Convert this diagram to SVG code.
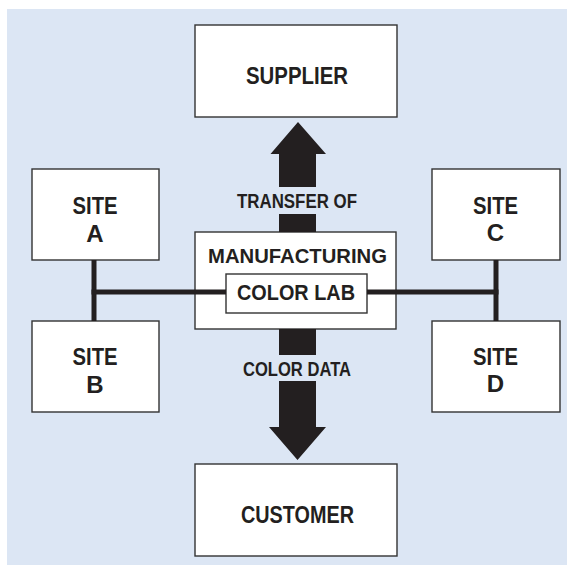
<svg xmlns="http://www.w3.org/2000/svg" width="575" height="575" viewBox="0 0 575 575">
<style>
.box{fill:#ffffff;stroke:#333333;stroke-width:1.4}
.t{font-family:"Liberation Sans Narrow","Liberation Sans",Arial,sans-serif;font-weight:bold;fill:#231f20;text-anchor:middle}
.c{fill:#231f20;stroke:none}
</style>
<rect x="0" y="0" width="575" height="575" fill="#ffffff"/>
<rect x="7" y="9" width="560" height="556" fill="#dce6f4"/>
<g id="supplier">
<rect class="box" x="195" y="25" width="202" height="92"/>
<text class="t" x="297" y="84" font-size="24" textLength="102" lengthAdjust="spacingAndGlyphs">SUPPLIER</text>
</g>
<g id="site-a">
<rect class="box" x="32" y="169" width="127" height="91"/>
<text class="t" x="95" y="214" font-size="24" textLength="45" lengthAdjust="spacingAndGlyphs">SITE</text>
<text class="t" x="95" y="241.5" font-size="24">A</text>
</g>
<g id="site-b">
<rect class="box" x="32" y="321" width="127" height="91"/>
<text class="t" x="95" y="365" font-size="24" textLength="45" lengthAdjust="spacingAndGlyphs">SITE</text>
<text class="t" x="95" y="392.5" font-size="24">B</text>
</g>
<g id="site-c">
<rect class="box" x="432" y="169" width="128" height="91"/>
<text class="t" x="495.5" y="213.5" font-size="24" textLength="45" lengthAdjust="spacingAndGlyphs">SITE</text>
<text class="t" x="495.5" y="240.7" font-size="24">C</text>
</g>
<g id="site-d">
<rect class="box" x="432" y="321" width="128" height="91"/>
<text class="t" x="495.5" y="364.5" font-size="24" textLength="45" lengthAdjust="spacingAndGlyphs">SITE</text>
<text class="t" x="495.5" y="392" font-size="24">D</text>
</g>
<g id="manufacturing">
<rect class="box" x="195" y="232" width="201" height="97"/>
<text class="t" x="297.5" y="262.7" font-size="20.5" textLength="179" lengthAdjust="spacingAndGlyphs">MANUFACTURING</text>
</g>
<g id="color-lab">
<rect class="box" x="226" y="274" width="141" height="39"/>
<text class="t" x="296" y="300" font-size="22" textLength="118" lengthAdjust="spacingAndGlyphs">COLOR LAB</text>
</g>
<g id="customer">
<rect class="box" x="195" y="464" width="202" height="92"/>
<text class="t" x="297.5" y="522.7" font-size="24" textLength="113" lengthAdjust="spacingAndGlyphs">CUSTOMER</text>
</g>
<g id="connectors">
<polygon class="c" points="298,122 326,154 316,154 316,187 279,187 279,154 270.5,154"/>
<rect class="c" x="279" y="214" width="37" height="18"/>
<text class="t" x="297" y="208" font-size="19.5" textLength="120" lengthAdjust="spacingAndGlyphs">TRANSFER OF</text>
<rect class="c" x="279" y="329" width="37" height="26"/>
<text class="t" x="297" y="375.7" font-size="19.5" textLength="108" lengthAdjust="spacingAndGlyphs">COLOR DATA</text>
<polygon class="c" points="279,381 316,381 316,427 326,427 297.5,460 269,427 279,427"/>
<rect class="c" x="91.5" y="260" width="5" height="61"/>
<rect class="c" x="493.5" y="260" width="5" height="61"/>
<rect class="c" x="91.5" y="289.5" width="134.5" height="5"/>
<rect class="c" x="367" y="289.5" width="131.5" height="5"/>
</g>
</svg>
